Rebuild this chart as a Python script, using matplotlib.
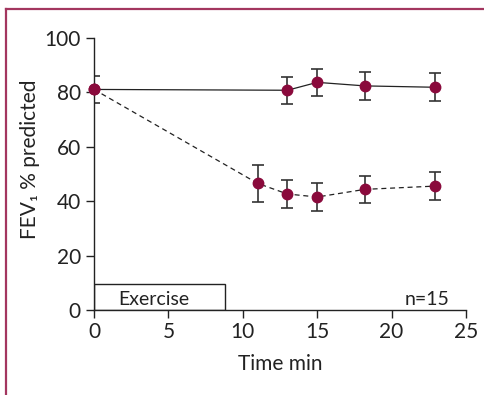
import matplotlib
matplotlib.use("Agg")
import matplotlib.pyplot as plt
from matplotlib.lines import Line2D
from matplotlib.patches import Rectangle

plt.rcParams['font.family'] = ['Lato', 'DejaVu Sans']

# Data
time_ctrl = [0, 13, 15, 18.2, 22.9]
fev_ctrl = [81.0, 80.7, 83.6, 82.3, 81.8]
err_ctrl = [5.1, 5.0, 5.0, 5.0, 5.1]

time_ex = [0, 11, 13, 15, 18.2, 22.9]
fev_ex = [81.0, 46.5, 42.6, 41.5, 44.3, 45.5]
err_ex = [0, 6.7, 5.0, 5.0, 5.0, 5.0]

exercise_end = 8.8
exercise_height = 9.5

xticks = [0, 5, 10, 15, 20, 25]
yticks = [0, 20, 40, 60, 80, 100]

W, H = 485, 395
fig = plt.figure(figsize=(W / 100, H / 100), dpi=100)
ax = fig.add_axes([94 / W, 1 - 310 / H, (466 - 94) / W, (310 - 37.7) / H])

mcol = '#8a0a3c'
ecol = '#333333'

ax.errorbar(time_ctrl, fev_ctrl, yerr=err_ctrl, fmt='-', color='#222222', lw=0.9,
            ecolor=ecol, elinewidth=1.2, capsize=4, capthick=1.2, zorder=2)
ax.errorbar(time_ex, fev_ex, yerr=err_ex, fmt='--', color='#222222', lw=0.9,
            dashes=(4, 3), ecolor=ecol, elinewidth=1.2, capsize=4, capthick=1.2, zorder=2)
ax.plot(time_ctrl, fev_ctrl, 'o', color=mcol, ms=7.5, zorder=3, clip_on=False)
ax.plot(time_ex, fev_ex, 'o', color=mcol, ms=7.5, zorder=3, clip_on=False)

ax.add_patch(Rectangle((0, 0), exercise_end, exercise_height, fill=False,
                       edgecolor='#222222', lw=1.0, zorder=1))
ax.text(4.05, 1.8, 'Exercise', ha='center', va='baseline', fontsize=14, color='#222222')
ax.text(22.37, 1.8, 'n=15', ha='center', va='baseline', fontsize=14, color='#222222')

ax.set_xlim(0, 25)
ax.set_ylim(0, 100)
ax.set_xticks(xticks)
ax.set_yticks(yticks)
for s in ['top', 'right']:
    ax.spines[s].set_visible(False)
for s in ['left', 'bottom']:
    ax.spines[s].set_color('#222222')
    ax.spines[s].set_linewidth(1.0)
ax.tick_params(axis='both', direction='out', length=5.5, width=1.0, colors='#222222',
               labelsize=15, labelcolor='#222222')
ax.tick_params(axis='y', pad=4)
ax.tick_params(axis='x', pad=3)

ax.set_xlabel('Time min', fontsize=15, color='#222222', labelpad=9)
ax.set_ylabel('FEV₁ % predicted', fontsize=15, color='#222222')
ax.yaxis.set_label_coords(-0.145, 0.555)

# Frame border
bcol = '#a3365f'
fig.add_artist(Line2D([6.5 / W, 1], [1 - 9 / H, 1 - 9 / H], color=bcol, lw=1.6,
                      transform=fig.transFigure))
fig.add_artist(Line2D([6.5 / W, 6.5 / W], [0, 1 - 9 / H], color=bcol, lw=1.6,
                      transform=fig.transFigure))

fig.savefig('out.png', dpi=100)
